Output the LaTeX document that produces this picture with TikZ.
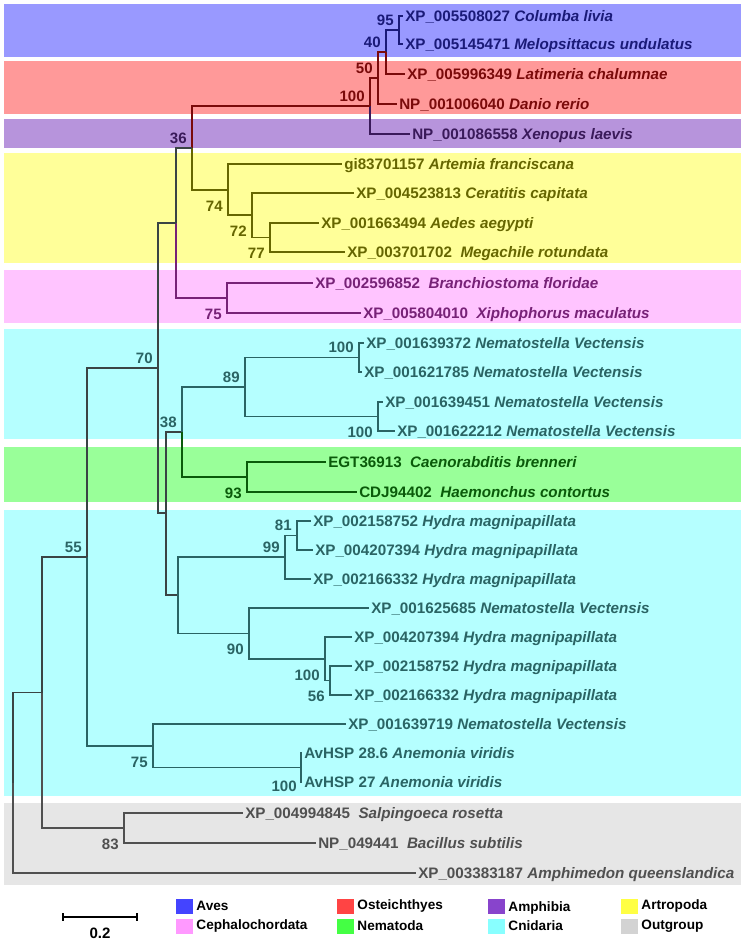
\documentclass[tikz,border=0pt]{standalone}
\usepackage{fontspec}
\setmainfont{Liberation Sans}
\usepackage{tikz}
\usetikzlibrary{positioning, calc}
\definecolor{AvesBand}{HTML}{9999FF}
\definecolor{AvesInk}{HTML}{1A1A78}
\definecolor{AvesKey}{HTML}{4444FF}
\definecolor{OsteBand}{HTML}{FF9999}
\definecolor{OsteInk}{HTML}{7A0A0A}
\definecolor{OsteKey}{HTML}{FF4444}
\definecolor{AmphBand}{HTML}{B794DC}
\definecolor{AmphInk}{HTML}{3A1A5A}
\definecolor{AmphKey}{HTML}{8844CC}
\definecolor{ArtrBand}{HTML}{FFFF99}
\definecolor{ArtrInk}{HTML}{666600}
\definecolor{ArtrKey}{HTML}{FFFF44}
\definecolor{CephBand}{HTML}{FFC4FF}
\definecolor{CephInk}{HTML}{772277}
\definecolor{CephKey}{HTML}{FF99FF}
\definecolor{CnidBand}{HTML}{B5FFFF}
\definecolor{CnidInk}{HTML}{2A6464}
\definecolor{CnidKey}{HTML}{88FFFF}
\definecolor{NemaBand}{HTML}{99FF99}
\definecolor{NemaInk}{HTML}{0A5A0A}
\definecolor{NemaKey}{HTML}{44FF44}
\definecolor{OutgBand}{HTML}{E6E6E6}
\definecolor{OutgInk}{HTML}{505050}
\definecolor{OutgKey}{HTML}{D3D3D3}
\definecolor{TreeGray}{HTML}{3A4444}

\begin{document}
\begin{tikzpicture}[
    x=0.75pt, y=-0.75pt,
    % Style for the taxon labels at the tips
    leaf/.style = {
        anchor=west, inner sep=1.5pt, text height=8.1pt, text depth=0pt,
        font=\fontsize{11.4}{13}\selectfont\bfseries
    },
    % Styles for the bootstrap values
    boot/.style = {
        anchor=east, inner sep=0pt, text height=8.1pt, text depth=0pt,
        font=\fontsize{11.3}{13}\selectfont\bfseries
    },
    bsup/.style = {boot, shift={(-5,-10)}},
    bsdn/.style = {boot, shift={(-5,16)}},
    % Branches and legend
    br/.style = {line width=0.8pt},
    keybox/.style = {anchor=west, minimum width=12.75pt, minimum height=11.25pt, inner sep=0pt},
    keytext/.style = {inner sep=0pt, font=\fontsize{10.2}{12}\selectfont\bfseries},
]
\useasboundingbox (0,0) rectangle (745,940);

% --- 1. GROUP BANDS ---
\fill[AvesBand] (4,4) rectangle (741,57);
\fill[OsteBand] (4,61) rectangle (741,114);
\fill[AmphBand] (4,119) rectangle (741,148);
\fill[ArtrBand] (4,153) rectangle (741,263);
\fill[CephBand] (4,270) rectangle (741,323);
\fill[CnidBand] (4,329) rectangle (741,439);
\fill[NemaBand] (4,447) rectangle (741,502);
\fill[CnidBand] (4,510) rectangle (741,796);
\fill[OutgBand] (4,803) rectangle (741,885);

% --- 2. TAXA ---
% Aves, Osteichthyes, Amphibia
\node[leaf, text=AvesInk] (t1) at (403,16) {XP\_005508027 \textit{Columba livia}};
\node[leaf, text=AvesInk] (t2) at (403,44) {XP\_005145471 \textit{Melopsittacus undulatus}};
\node[leaf, text=OsteInk] (t3) at (405,74) {XP\_005996349 \textit{Latimeria chalumnae}};
\node[leaf, text=OsteInk] (t4) at (397,104) {NP\_001006040 \textit{Danio rerio}};
\node[leaf, text=AmphInk] (t5) at (410,134) {NP\_001086558 \textit{Xenopus laevis}};

% Artropoda, Cephalochordata
\node[leaf, text=ArtrInk] (t6) at (342,164) {gi83701157 \textit{Artemia franciscana}};
\node[leaf, text=ArtrInk] (t7) at (354,193) {XP\_004523813 \textit{Ceratitis capitata}};
\node[leaf, text=ArtrInk] (t8) at (319,223) {XP\_001663494 \textit{Aedes aegypti}};
\node[leaf, text=ArtrInk] (t9) at (345,252) {XP\_003701702\ \ \textit{Megachile rotundata}};
\node[leaf, text=CephInk] (t10) at (313,283) {XP\_002596852\ \ \textit{Branchiostoma floridae}};
\node[leaf, text=CephInk] (t11) at (361,313) {XP\_005804010\ \ \textit{Xiphophorus maculatus}};

% Cnidaria, Nematoda
\node[leaf, text=CnidInk] (t12) at (364,343) {XP\_001639372 \textit{Nematostella Vectensis}};
\node[leaf, text=CnidInk] (t13) at (362,372) {XP\_001621785 \textit{Nematostella Vectensis}};
\node[leaf, text=CnidInk] (t14) at (383,402) {XP\_001639451 \textit{Nematostella Vectensis}};
\node[leaf, text=CnidInk] (t15) at (395,431) {XP\_001622212 \textit{Nematostella Vectensis}};
\node[leaf, text=NemaInk] (t16) at (326,462) {EGT36913\ \ \textit{Caenorabditis brenneri}};
\node[leaf, text=NemaInk] (t17) at (357,492) {CDJ94402\ \ \textit{Haemonchus contortus}};
\node[leaf, text=CnidInk] (t18) at (311,521) {XP\_002158752 \textit{Hydra magnipapillata}};
\node[leaf, text=CnidInk] (t19) at (313,550) {XP\_004207394 \textit{Hydra magnipapillata}};
\node[leaf, text=CnidInk] (t20) at (311,579) {XP\_002166332 \textit{Hydra magnipapillata}};
\node[leaf, text=CnidInk] (t21) at (369,608) {XP\_001625685 \textit{Nematostella Vectensis}};
\node[leaf, text=CnidInk] (t22) at (352,637) {XP\_004207394 \textit{Hydra magnipapillata}};
\node[leaf, text=CnidInk] (t23) at (352,666) {XP\_002158752 \textit{Hydra magnipapillata}};
\node[leaf, text=CnidInk] (t24) at (352,695) {XP\_002166332 \textit{Hydra magnipapillata}};
\node[leaf, text=CnidInk] (t25) at (346,724) {XP\_001639719 \textit{Nematostella Vectensis}};
\node[leaf, text=CnidInk] (t26) at (302,753) {AvHSP 28.6 \textit{Anemonia viridis}};
\node[leaf, text=CnidInk] (t27) at (302,782) {AvHSP 27 \textit{Anemonia viridis}};

% Outgroup
\node[leaf, text=OutgInk] (t28) at (243,813) {XP\_004994845\ \ \textit{Salpingoeca rosetta}};
\node[leaf, text=OutgInk] (t29) at (316,843) {NP\_049441\ \ \textit{Bacillus subtilis}};
\node[leaf, text=OutgInk] (t30) at (416,873) {XP\_003383187 \textit{Amphimedon queenslandica}};

% --- 3. INTERNAL NODES ---
\coordinate (birds) at (399,30);
\coordinate (sarco) at (386,52);
\coordinate (osteo) at (378,78);
\coordinate (vert) at (370,106);
\coordinate (vertart) at (192,148);
\coordinate (arthro) at (228,190);
\coordinate (insect) at (252,215);
\coordinate (mosq) at (270,237.5);
\coordinate (bilat) at (176,223);
\coordinate (ceph) at (227,298);
\coordinate (ingroup) at (158,368);
\coordinate (cnidnem) at (166,513);
\coordinate (nvnema) at (182,432);
\coordinate (nvA) at (245,387);
\coordinate (nvA1) at (359,357.5);
\coordinate (nvA2) at (378,416.5);
\coordinate (nema) at (247,477);
\coordinate (hydraNv) at (178,595);
\coordinate (hydraA) at (285,557);
\coordinate (hydraA1) at (297,535.5);
\coordinate (nvHydra) at (249,633.5);
\coordinate (hydraB) at (325,659);
\coordinate (hydraB1) at (330,680.5);
\coordinate (metaz) at (87,557);
\coordinate (anem) at (153,746);
\coordinate (avhsp) at (301,767.5);
\coordinate (core) at (42,692.5);
\coordinate (outg) at (124,828);
\coordinate (root) at (13,783);

% --- 4. BRANCHES ---
\draw[br, AvesInk] (birds) |- (t1.west) (birds) |- (t2.west);
\draw[br, AvesInk] (sarco) |- (birds);
\draw[br, OsteInk] (sarco) |- (t3.west);
\draw[br, OsteInk] (osteo) |- (sarco) (osteo) |- (t4.west);
\draw[br, OsteInk] (vert) |- (osteo);
\draw[br, AmphInk] (vert) |- (t5.west);
\draw[br, OsteInk] (vertart) |- (vert);
\draw[br, ArtrInk] (vertart) |- (arthro);
\draw[br, ArtrInk] (arthro) |- (t6.west) (arthro) |- (insect);
\draw[br, ArtrInk] (insect) |- (t7.west) (insect) |- (mosq);
\draw[br, ArtrInk] (mosq) |- (t8.west) (mosq) |- (t9.west);
\draw[br, TreeGray] (bilat) |- (vertart);
\draw[br, CephInk] (bilat) |- (ceph);
\draw[br, CephInk] (ceph) |- (t10.west) (ceph) |- (t11.west);
\draw[br, TreeGray] (ingroup) |- (bilat) (ingroup) |- (cnidnem);
\draw[br, TreeGray] (cnidnem) |- (nvnema) (cnidnem) |- (hydraNv);
\draw[br, CnidInk] (nvnema) |- (nvA);
\draw[br, NemaInk] (nvnema) |- (nema);
\draw[br, CnidInk] (nvA) |- (nvA1) (nvA) |- (nvA2);
\draw[br, CnidInk] (nvA1) |- (t12.west) (nvA1) |- (t13.west);
\draw[br, CnidInk] (nvA2) |- (t14.west) (nvA2) |- (t15.west);
\draw[br, NemaInk] (nema) |- (t16.west) (nema) |- (t17.west);
\draw[br, CnidInk] (hydraNv) |- (hydraA) (hydraNv) |- (nvHydra);
\draw[br, CnidInk] (hydraA) |- (hydraA1) (hydraA) |- (t20.west);
\draw[br, CnidInk] (hydraA1) |- (t18.west) (hydraA1) |- (t19.west);
\draw[br, CnidInk] (nvHydra) |- (t21.west) (nvHydra) |- (hydraB);
\draw[br, CnidInk] (hydraB) |- (t22.west) (hydraB) |- (hydraB1);
\draw[br, CnidInk] (hydraB1) |- (t23.west) (hydraB1) |- (t24.west);
\draw[br, TreeGray] (metaz) |- (ingroup);
\draw[br, CnidInk] (metaz) |- (anem);
\draw[br, CnidInk] (anem) |- (t25.west) (anem) |- (avhsp);
\draw[br, CnidInk] (avhsp) |- (t26.west) (avhsp) |- (t27.west);
\draw[br, TreeGray] (core) |- (metaz);
\draw[br, OutgInk] (core) |- (outg);
\draw[br, OutgInk] (outg) |- (t28.west) (outg) |- (t29.west);
\draw[br, TreeGray] (root) |- (core);
\draw[br, OutgInk] (root) |- (t30.west);

% --- 5. BOOTSTRAP VALUES ---
\node[bsup, text=AvesInk] (bBirds) at (birds) {95};
\node[bsup, text=AvesInk] (bSarco) at (sarco) {40};
\node[bsup, text=OsteInk] (bOsteo) at (osteo) {50};
\node[bsup, text=OsteInk] (bVert) at (vert) {100};
\node[bsup, text=AmphInk] (bVertart) at (vertart) {36};
\node[bsdn, text=ArtrInk] (bArthro) at (arthro) {74};
\node[bsdn, text=ArtrInk] (bInsect) at (insect) {72};
\node[bsdn, text=ArtrInk] (bMosq) at (mosq) {77};
\node[bsdn, text=CephInk] (bCeph) at (ceph) {75};
\node[bsup, text=CnidInk] (bIngroup) at (ingroup) {70};
\node[bsup, text=CnidInk] (bNvnema) at (nvnema) {38};
\node[bsup, text=CnidInk] (bNvA) at (nvA) {89};
\node[bsup, text=CnidInk] (bNvA1) at (nvA1) {100};
\node[bsdn, text=CnidInk] (bNvA2) at (nvA2) {100};
\node[bsdn, text=NemaInk] (bNema) at (nema) {93};
\node[bsup, text=CnidInk] (bHydraA) at (hydraA) {99};
\node[bsup, text=CnidInk] (bHydraA1) at (hydraA1) {81};
\node[bsdn, text=CnidInk] (bNvHydra) at (nvHydra) {90};
\node[bsdn, text=CnidInk] (bHydraB) at (hydraB) {100};
\node[bsdn, text=CnidInk] (bHydraB1) at (hydraB1) {56};
\node[bsup, text=CnidInk] (bMetaz) at (metaz) {55};
\node[bsdn, text=CnidInk] (bAnem) at (anem) {75};
\node[boot, text=CnidInk, shift={(-4,19)}] (bAvhsp) at (avhsp) {100};
\node[bsdn, text=OutgInk] (bOutg) at (outg) {83};

% --- 6. SCALE BAR AND LEGEND ---
\coordinate (sbL) at (63,917);
\coordinate (sbR) at (137,917);
\draw[line width=0.9pt] (sbL) -- (sbR);
\draw[line width=0.9pt] ($(sbL)+(0,-4)$) -- ($(sbL)+(0,4)$);
\draw[line width=0.9pt] ($(sbR)+(0,-4)$) -- ($(sbR)+(0,4)$);
\node[keytext, font=\fontsize{11.3}{13}\selectfont\bfseries] (sbT) at (100,933) {0.2};

\node[keybox, fill=AvesKey] (kAves) at (176,906) {};
\node[keytext, right=2pt of kAves] (ktAves) {Aves};
\node[keybox, fill=OsteKey] (kOste) at (337,906) {};
\node[keytext, right=2pt of kOste] (ktOste) {Osteichthyes};
\node[keybox, fill=AmphKey] (kAmph) at (488,906) {};
\node[keytext, right=2pt of kAmph, yshift=-1.5pt] (ktAmph) {Amphibia};
\node[keybox, fill=ArtrKey] (kArtr) at (621,906) {};
\node[keytext, right=2pt of kArtr] (ktArtr) {Artropoda};
\node[keybox, fill=CephKey] (kCeph) at (176,926) {};
\node[keytext, right=2pt of kCeph] (ktCeph) {Cephalochordata};
\node[keybox, fill=NemaKey] (kNema) at (337,926) {};
\node[keytext, right=2pt of kNema] (ktNema) {Nematoda};
\node[keybox, fill=CnidKey] (kCnid) at (488,926) {};
\node[keytext, right=2pt of kCnid] (ktCnid) {Cnidaria};
\node[keybox, fill=OutgKey] (kOutg) at (621,926) {};
\node[keytext, right=2pt of kOutg] (ktOutg) {Outgroup};

\end{tikzpicture}
\end{document}
